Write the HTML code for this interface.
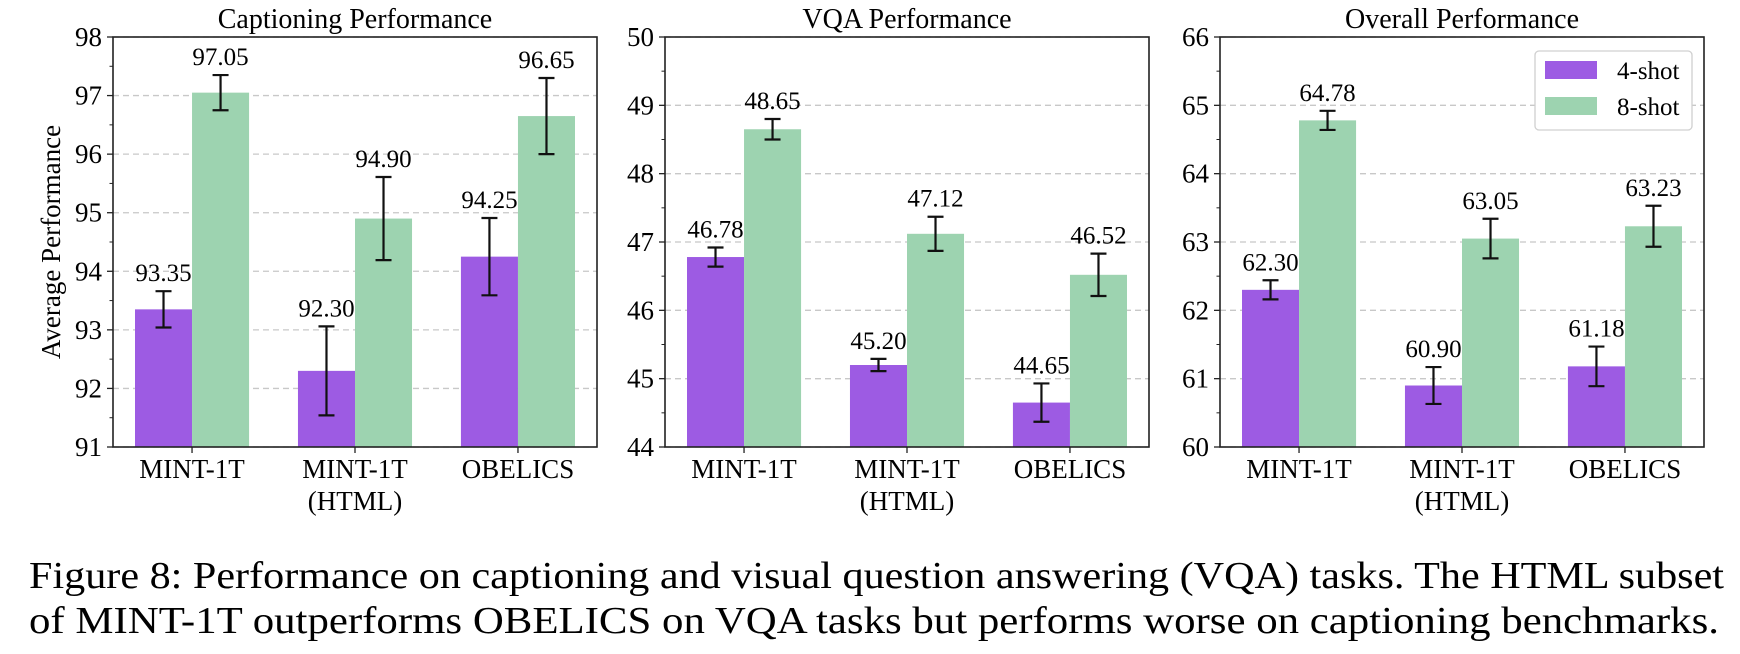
<!DOCTYPE html>
<html><head><meta charset="utf-8">
<style>
html,body{margin:0;padding:0;background:#fff;}
svg, svg text{font-family:"Liberation Serif","Times New Roman",Times,serif;}
svg{display:block;}
</style></head>
<body>
<svg id="fig" width="1740" height="654" viewBox="0 0 1740 654" xmlns="http://www.w3.org/2000/svg" font-family="Liberation Serif, Times New Roman, serif">
<text x="29" y="588" font-size="38" textLength="1695" lengthAdjust="spacingAndGlyphs">Figure 8: Performance on captioning and visual question answering (VQA) tasks. The HTML subset</text>
<text x="29" y="633" font-size="38" textLength="1690" lengthAdjust="spacingAndGlyphs">of MINT-1T outperforms OBELICS on VQA tasks but performs worse on captioning benchmarks.</text>
</svg>
<script>
const categories = ["MINT-1T", "MINT-1T\n(HTML)", "OBELICS"];
const seriesNames = ["4-shot", "8-shot"];
const capt4 = [93.35, 92.30, 94.25];
const capt8 = [97.05, 94.90, 96.65];
const capt4Err = [0.31, 0.76, 0.66];
const capt8Err = [0.30, 0.71, 0.65];
const vqa4 = [46.78, 45.20, 44.65];
const vqa8 = [48.65, 47.12, 46.52];
const vqa4Err = [0.14, 0.09, 0.28];
const vqa8Err = [0.15, 0.25, 0.31];
const all4 = [62.30, 60.90, 61.18];
const all8 = [64.78, 63.05, 63.23];
const all4Err = [0.14, 0.27, 0.29];
const all8Err = [0.14, 0.29, 0.30];
const captTicks = [91, 92, 93, 94, 95, 96, 97, 98];
const vqaTicks = [44, 45, 46, 47, 48, 49, 50];
const allTicks = [60, 61, 62, 63, 64, 65, 66];

const NS = "http://www.w3.org/2000/svg";
const svg = document.getElementById("fig");
const C4 = "#9d5be3", C8 = "#9dd3b0";
function mk(tag, attrs, parent) {
  const e = document.createElementNS(NS, tag);
  for (const k in attrs) e.setAttribute(k, attrs[k]);
  (parent || svg).appendChild(e);
  return e;
}

function panel(name, left, title, ticks, s4, s8, e4, e8, legend) {
  const top = 37, bottom = 447, width = 484;
  const right = left + width;
  const ymin = ticks[0], ymax = ticks[ticks.length - 1];
  const y = v => bottom - (v - ymin) / (ymax - ymin) * (bottom - top);
  const groupW = width / 2.97;
  const x = i => left + groupW * (0.485 + i);
  const bw = groupW * 0.35;
  const g = mk("g", {});
  
  

  ticks.forEach(t => {
    const gl = mk("line", {x1: left, x2: right, y1: y(t), y2: y(t), stroke: "#c8c8c8", "stroke-width": 1.3, "stroke-dasharray": "6,4"}, g);
    
    
  });
  for (let i = 0; i < ticks.length - 1; i++) {
    const v = (ticks[i] + ticks[i + 1]) / 2;
    const mt = mk("line", {x1: left - 3.5, x2: left, y1: y(v), y2: y(v), stroke: "#222", "stroke-width": 1}, g);
    
    
  }
  [s4, s8].forEach((ser, si) => {
    const errs = si === 0 ? e4 : e8;
    ser.forEach((v, i) => {
      const cx = x(i) + (si === 0 ? -bw / 2 : bw / 2);
      const r = mk("rect", {x: cx - bw / 2, y: y(v), width: bw, height: bottom - y(v), fill: si === 0 ? C4 : C8}, g);
      
      
      const eb = mk("g", {stroke: "#111", "stroke-width": 2.2}, g);
      
      
      const hi = y(v + errs[i]), lo = y(v - errs[i]);
      mk("line", {x1: cx, x2: cx, y1: hi, y2: lo}, eb);
      mk("line", {x1: cx - 8, x2: cx + 8, y1: hi, y2: hi}, eb);
      mk("line", {x1: cx - 8, x2: cx + 8, y1: lo, y2: lo}, eb);
      const t = mk("text", {x: cx, y: hi - 10, "text-anchor": "middle", "font-size": 25}, g);
      t.textContent = v.toFixed(2);
      
      
    });
  });
  const fr = mk("rect", {x: left, y: top, width: width, height: bottom - top, fill: "none", stroke: "#222", "stroke-width": 1.6}, g);
  
  
  ticks.forEach(t => {
    mk("line", {x1: left - 6, x2: left, y1: y(t), y2: y(t), stroke: "#222", "stroke-width": 1.3}, g);
    const lb = mk("text", {x: left - 11, y: y(t) + 9, "text-anchor": "end", "font-size": 27}, g);
    lb.textContent = t;
    
    
  });
  categories.forEach((c, i) => {
    mk("line", {x1: x(i), x2: x(i), y1: bottom, y2: bottom + 6, stroke: "#222", "stroke-width": 1.3}, g);
    const lines = c.split("\n");
    lines.forEach((ln, k) => {
      const lb = mk("text", {x: x(i), y: 478 + k * 32, "text-anchor": "middle", "font-size": 27}, g);
      lb.textContent = ln;
      
      
    });
  });
  const tt = mk("text", {x: left + width / 2, y: 28, "text-anchor": "middle", "font-size": 28}, g);
  tt.textContent = title;
  
  

  if (legend) {
    const lg = mk("g", {}, g);
    
    
    mk("rect", {x: 1535, y: 51, width: 157, height: 79, rx: 4, fill: "#fff", stroke: "#d0d0d0", "stroke-width": 1.3}, lg);
    seriesNames.forEach((s, k) => {
      const le = mk("g", {}, lg);
      
      
      mk("rect", {x: 1545, y: 61 + k * 36, width: 52, height: 18, fill: k === 0 ? C4 : C8}, le);
      const lt = mk("text", {x: 1617, y: 79 + k * 36, "font-size": 25}, le);
      lt.textContent = s;
    });
  }
}

panel("captioning", 113, "Captioning Performance", captTicks, capt4, capt8, capt4Err, capt8Err, false);
panel("vqa", 665, "VQA Performance", vqaTicks, vqa4, vqa8, vqa4Err, vqa8Err, false);
panel("overall", 1220, "Overall Performance", allTicks, all4, all8, all4Err, all8Err, true);

const yl = mk("text", {x: 0, y: 0, "text-anchor": "middle", "font-size": 27, transform: "translate(60,242) rotate(-90)"});
yl.textContent = "Average Performance";


</script>
</body></html>
